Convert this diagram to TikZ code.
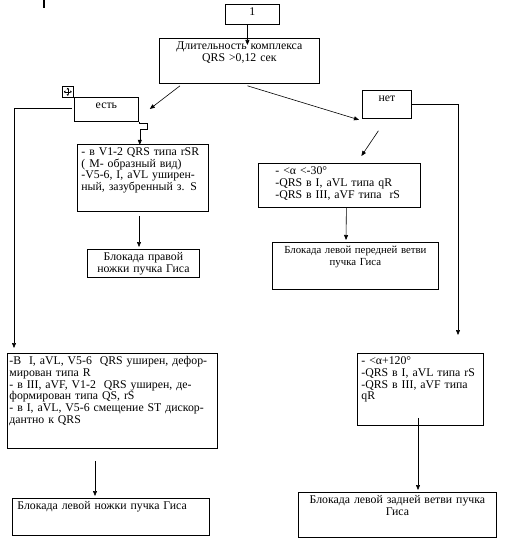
\documentclass[tikz,border=0pt]{standalone}
\usepackage{fontspec}
\setmainfont{Liberation Serif}
\usetikzlibrary{arrows.meta,positioning,calc}
\tikzset{
  frame/.style={draw,rectangle,anchor=north west,line width=0.8pt,
                inner xsep=4pt,inner ysep=2pt,text height=9pt,
                font=\fontsize{11.8}{11.8}\selectfont},
  lbox/.style n args={3}{frame,align=left,minimum width=#1pt,
                      text width=#1pt-8pt,text depth=#2pt-13pt,#3},
  cbox/.style n args={3}{frame,align=center,minimum width=#1pt,
                      text width=#1pt-8pt,text depth=#2pt-13pt,#3},
  arr/.style={-{Triangle[length=5pt,width=4pt]},line width=0.6pt},
}

\begin{document}
\begin{tikzpicture}[x=1pt,y=-1pt]
  \useasboundingbox (0,0) rectangle (505,545);

  % top row
  \node[cbox={54}{20}{}] (one) at (225,4) {1};
  \node[cbox={160}{45}{}] (main) at (159,38) {Длительность комплекса\\QRS >0,12 сек};
  \node[cbox={64}{24}{}] (yes) at (74,97) {есть};
  \node[cbox={49}{28}{}] (no) at (362,90) {нет};

  % left branch
  \node[lbox={131}{67}{}] (rsr) at (77,144)
    {- в V1-2 QRS типа rSR\\( M- образный вид)\\-V5-6, I, aVL уширен-\\ный, зазубренный з. S};
  \node[cbox={112}{28}{}] (rbbb) at (87,249) {Блокада правой\\ножки пучка Гиса};
  \node[lbox={210}{95}{inner xsep=2pt,text width=206pt}] (lbcrit) at (7,353)
    {-В\ \ I, aVL, V5-6\ \ QRS уширен, дефор-\\мирован типа R\\- в III, aVF, V1-2\ \ QRS уширен, де-\\формирован типа QS, rS\\- в I, aVL, V5-6 смещение ST дискор-\\дантно к QRS};
  \node[lbox={197}{37}{inner xsep=5pt,text width=187pt}] (lbbb) at (12,498) {Блокада левой ножки пучка Гиса};

  % right branch
  \node[lbox={162}{44}{}] (lacrit) at (258,163)
    {\hspace*{13pt}- <α <-30°\\\hspace*{13pt}-QRS в I, aVL типа qR\\\hspace*{13pt}-QRS в III, aVF типа\ \ rS};
  \node[cbox={166}{47}{inner xsep=3pt,text width=160pt,font=\fontsize{10.8}{11.8}\selectfont}] (lafb) at (272,242)
    {Блокада левой передней ветви\\пучка Гиса};
  \node[lbox={126}{72}{}] (lpcrit) at (357,353)
    {- <α+120°\\-QRS в I, aVL типа rS\\-QRS в III, aVF типа\\qR};
  \node[cbox={198}{45}{}] (lpfb) at (298,492) {Блокада левой задней ветви пучка\\Гиса};

  % handle marks
  \node[draw,line width=0.6pt,minimum size=11pt,inner sep=0pt,anchor=north west] (handle) at (62,86) {};
  \draw[line width=0.4pt,{Triangle[length=1.5pt,width=2.5pt]}-{Triangle[length=1.5pt,width=2.5pt]}]
    ($(handle.center)+(-4,0)$) -- ($(handle.center)+(4,0)$);
  \draw[line width=0.4pt,{Triangle[length=1.5pt,width=2.5pt]}-{Triangle[length=1.5pt,width=2.5pt]}]
    ($(handle.center)+(0,-4)$) -- ($(handle.center)+(0,4)$);
  \fill (43,0) rectangle (45,8);

  % connectors
  \draw[arr] ($(one.south)+(-5,0)$) -- ($(main.north)+(8,7)$);
  \draw[arr] ($(main.south west)+(21,2)$) -- ($(yes.north east)+(11,12)$);
  \draw[arr] ($(main.south)+(8,2)$) -- ($(no.south west)+(-3,1)$);
  \draw[arr] ($(yes.west)+(-2,-1)$) -| ($(lbcrit.north west)+(7,-5)$);
  \draw[arr] (yes.south east) -- ++(0,2) -- ++(8,0) -- ++(0,6) -- ++(-7,0) -- ++(0,15);
  \draw[arr] ($(rsr.south west)+(62,4)$) -- ($(rbbb.north west)+(52,-2)$);
  \draw[arr] ($(lbcrit.south west)+(88,12)$) -- ($(lbbb.north west)+(83,-2)$);
  \draw[arr] ($(no.south)+(-8.5,12)$) -- ($(lacrit.north)+(22,-7)$);
  \draw[arr] ($(lacrit.south)+(7,0)$) -- ($(lafb.north west)+(74,-2)$);
  \draw[arr] (no.east) -| ($(lpcrit.north west)+(101,-18)$);
  \draw[arr] ($(lpcrit.south west)+(61,-8)$) -- ($(lpfb.north west)+(120,-2)$);

\end{tikzpicture}
\end{document}
